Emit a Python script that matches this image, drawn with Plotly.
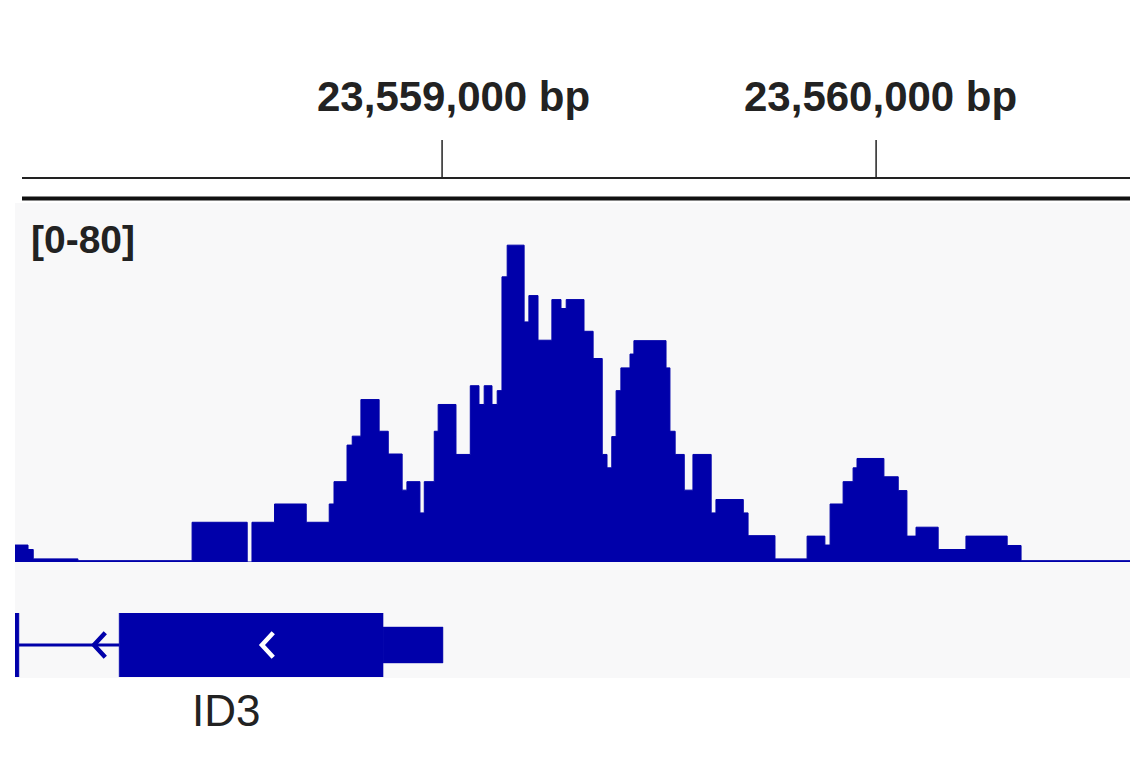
import plotly.graph_objects as go

W, H = 1141, 768
OFF = 8  # page body margin around the figure
BLUE = "rgb(0,0,170)"

# view window (bp)
view_start = 23558016
view_end = 23560585

# coverage track: bin start positions (bp) and signal values, scale [0-80]
bin_start = [
    23558016, 23558046, 23558058, 23558161, 23558424, 23558551, 23558562, 23558614,
    23558687, 23558740, 23558751, 23558781, 23558793, 23558813, 23558855, 23558876,
    23558908, 23558919, 23558949, 23558959, 23558982, 23558991, 23559032, 23559065,
    23559085, 23559097, 23559115, 23559127, 23559138, 23559150, 23559189, 23559200,
    23559221, 23559253, 23559274, 23559286, 23559327, 23559348, 23559369, 23559380,
    23559391, 23559401, 23559412, 23559433, 23559442, 23559516, 23559525, 23559537,
    23559558, 23559578, 23559620, 23559631, 23559694, 23559705, 23559767, 23559841,
    23559882, 23559894, 23559924, 23559947, 23559956, 23560018, 23560051, 23560071,
    23560092, 23560143, 23560207, 23560302, 23560334,
]
coverage = [
    3.8, 2.8, 0.7, 0.3, 8.9, 0.0, 8.9, 13.0,
    8.9, 13.0, 18.0, 26.2, 28.2, 36.4, 29.3, 24.2,
    16.1, 18.0, 11.0, 18.0, 29.3, 35.3, 24.1, 39.5,
    35.3, 39.5, 35.3, 38.4, 63.9, 71.0, 53.8, 59.7,
    49.7, 58.8, 56.8, 58.8, 51.7, 45.6, 24.1, 21.1,
    28.1, 38.4, 43.5, 46.6, 49.6, 43.5, 29.3, 24.1,
    16.1, 24.1, 11.0, 14.0, 11.0, 5.9, 0.7, 5.8,
    3.8, 13.0, 18.0, 21.1, 23.2, 19.1, 16.0, 5.8,
    7.8, 2.8, 5.8, 3.7, 0.3,
]
scale_label = "[0-80]"

# gene model ID3 (minus strand)
gene_name = "ID3"
exon_start = [23558016, 23558256]
exon_end = [23558025, 23558864]
utr_start = [23558864]
utr_end = [23559002]
intron_start = 23558025
intron_end = 23558256
strand_marks_intron = [23558198]
strand_marks_exon = [23558585]

ruler_ticks = [23559000, 23560000]
ruler_labels = ["23,559,000 bp", "23,560,000 bp"]
label_shift = [11, 4]

FONT = "Liberation Sans, Arial, Helvetica, sans-serif"


def py(px):
    # screen pixel row -> paper y
    return 1 - (px - OFF) / H


def px_x(px):
    # screen pixel column -> paper x (plot spans px 15..1130)
    return (px - 15) / (1130 - 15)


def rects(starts, ends, y0, y1):
    xs, ys = [], []
    for s, e in zip(starts, ends):
        xs += [s, e, e, s, s, None]
        ys += [y0, y0, y1, y1, y0, None]
    return xs, ys


def chevrons(positions, w=26, lo=0.31, hi=0.69):
    xs, ys = [], []
    for p in positions:
        xs += [p + w, p, p + w, None]
        ys += [hi, 0.5, lo, None]
    return xs, ys


fig = go.Figure()

# coverage histogram
fig.add_trace(go.Scatter(
    x=bin_start + [view_end], y=coverage + [coverage[-1]],
    mode="lines", line=dict(shape="hv", color=BLUE, width=1),
    fill="tozeroy", fillcolor=BLUE, showlegend=False, hoverinfo="skip",
))

# gene track
fig.add_trace(go.Scatter(
    x=[intron_start, intron_end], y=[0.5, 0.5], yaxis="y2",
    mode="lines", line=dict(color=BLUE, width=3), showlegend=False, hoverinfo="skip",
))
ex_x, ex_y = rects(exon_start, exon_end, 0, 1)
fig.add_trace(go.Scatter(
    x=ex_x, y=ex_y, yaxis="y2", mode="lines", fill="toself",
    fillcolor=BLUE, line=dict(color=BLUE, width=0.5), showlegend=False, hoverinfo="skip",
))
ut_x, ut_y = rects(utr_start, utr_end, 0.22, 0.78)
fig.add_trace(go.Scatter(
    x=ut_x, y=ut_y, yaxis="y2", mode="lines", fill="toself",
    fillcolor=BLUE, line=dict(color=BLUE, width=0.5), showlegend=False, hoverinfo="skip",
))
cx, cy = chevrons(strand_marks_intron)
fig.add_trace(go.Scatter(
    x=cx, y=cy, yaxis="y2", mode="lines", line=dict(color=BLUE, width=4.5),
    showlegend=False, hoverinfo="skip",
))
cx, cy = chevrons(strand_marks_exon)
fig.add_trace(go.Scatter(
    x=cx, y=cy, yaxis="y2", mode="lines", line=dict(color="white", width=4.5),
    showlegend=False, hoverinfo="skip",
))

shapes = [
    # track background
    dict(type="rect", xref="paper", yref="paper", x0=0, x1=1, y0=py(678), y1=py(203),
         fillcolor="#f8f8f9", line=dict(width=0), layer="below"),
    # ruler lines
    dict(type="line", xref="paper", yref="paper", x0=px_x(22), x1=1, y0=py(178), y1=py(178),
         line=dict(color="#222", width=2)),
    dict(type="line", xref="paper", yref="paper", x0=px_x(22), x1=1, y0=py(198.5), y1=py(198.5),
         line=dict(color="#111", width=4)),
]
for t in ruler_ticks:
    shapes.append(dict(type="line", xref="x", yref="paper", x0=t, x1=t, y0=py(178), y1=py(140),
                       line=dict(color="#222", width=1.5)))

annotations = []
for t, lab, sh in zip(ruler_ticks, ruler_labels, label_shift):
    annotations.append(dict(
        x=t, xref="x", y=py(96), yref="paper", text=lab, showarrow=False,
        xanchor="center", yanchor="middle", xshift=sh,
        font=dict(family=FONT, size=42, color="#222", weight="bold"),
    ))
annotations.append(dict(
    x=px_x(29), xref="paper", y=py(239), yref="paper", text=scale_label, showarrow=False,
    xanchor="left", yanchor="middle",
    font=dict(family=FONT, size=39, color="#222", weight="bold"),
))
annotations.append(dict(
    x=px_x(226), xref="paper", y=py(710), yref="paper", text=gene_name, showarrow=False,
    xanchor="center", yanchor="middle",
    font=dict(family=FONT, size=44, color="#222"),
))

fig.update_layout(
    width=W, height=H,
    margin=dict(l=15 - OFF, r=W - (1130 - OFF), t=0, b=0),
    paper_bgcolor="white", plot_bgcolor="rgba(0,0,0,0)",
    xaxis=dict(range=[view_start, view_end], visible=False, domain=[0, 1]),
    yaxis=dict(range=[0, 80], domain=[py(562), py(205)], visible=False),
    yaxis2=dict(range=[0, 1], domain=[py(677), py(613)], visible=False, anchor="x"),
    shapes=shapes, annotations=annotations, showlegend=False,
)

fig.write_html("out.html")
